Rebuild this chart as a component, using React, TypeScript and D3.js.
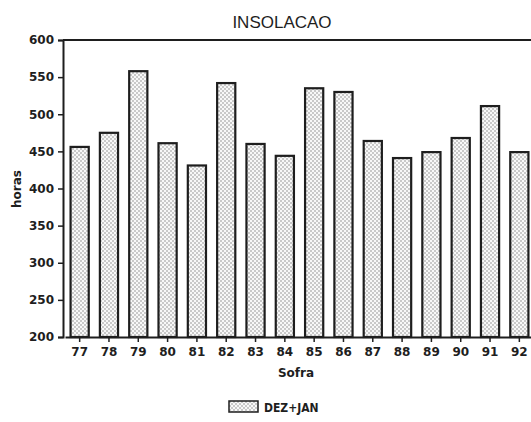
import React, { useEffect, useRef } from "react";
import * as d3 from "d3";

const years = ["77", "78", "79", "80", "81", "82", "83", "84", "85", "86", "87", "88", "89", "90", "91", "92"];
const dezJan = [456, 475, 558, 461, 431, 542, 460, 444, 535, 530, 464, 441, 449, 468, 511, 449];
const yTicks = [200, 250, 300, 350, 400, 450, 500, 550, 600];

function App() {
  const ref = useRef<SVGSVGElement | null>(null);
  const width = 531;
  const height = 422;
  const marginTop = 40;
  const marginLeft = 63;
  const plotBottom = 337;
  const plotRight = 534;

  useEffect(() => {
    const x = d3
      .scaleBand<string>()
      .domain(years)
      .range([marginLeft + 2, plotRight])
      .paddingInner(0.38)
      .paddingOuter(0.19);

    const y = d3.scaleLinear().domain([200, 600]).range([plotBottom, marginTop]);

    const ink = "#1e1e1e";
    const svg = d3.select(ref.current);
    svg.selectAll("*").remove();
    svg.attr("width", width).attr("height", height).attr("viewBox", [0, 0, width, height]);

    // dotted fill like the old printer pattern (staggered dots)
    const pat = svg
      .append("defs")
      .append("pattern")
      .attr("id", "dots")
      .attr("width", 4)
      .attr("height", 4)
      .attr("patternUnits", "userSpaceOnUse");
    pat.append("rect").attr("width", 4).attr("height", 4).attr("fill", "#f8f8f8");
    pat.append("circle").attr("cx", 1).attr("cy", 1).attr("r", 0.7).attr("fill", "#777");
    pat.append("circle").attr("cx", 3).attr("cy", 3).attr("r", 0.7).attr("fill", "#777");

    // title
    svg
      .append("text")
      .attr("x", 282)
      .attr("y", 28)
      .attr("text-anchor", "middle")
      .attr("font-family", "Liberation Sans, Arial, sans-serif")
      .attr("font-size", 17)
      .attr("fill", ink)
      .text("INSOLACAO");

    // bars
    svg
      .append("g")
      .selectAll("rect")
      .data(dezJan)
      .join("rect")
      .attr("x", (_, i) => x(years[i]) as number)
      .attr("y", (d) => y(d))
      .attr("width", x.bandwidth())
      .attr("height", (d) => plotBottom - y(d))
      .attr("fill", "url(#dots)")
      .attr("stroke", ink)
      .attr("stroke-width", 2.2);

    // y axis
    const yAxis = svg
      .append("g")
      .attr("transform", `translate(${marginLeft},0)`)
      .call(d3.axisLeft(y).tickValues(yTicks).tickSize(5).tickPadding(4));
    yAxis.select(".domain").attr("stroke", ink).attr("stroke-width", 2);
    yAxis.selectAll(".tick line").attr("stroke", ink).attr("stroke-width", 1.5);
    yAxis
      .selectAll("text")
      .attr("font-family", "DejaVu Sans, sans-serif")
      .attr("font-weight", "bold")
      .attr("font-size", 12)
      .attr("fill", ink);

    // x axis
    const xAxis = svg
      .append("g")
      .attr("transform", `translate(0,${plotBottom})`)
      .call(d3.axisBottom(x).tickSize(5).tickPadding(5).tickSizeOuter(0));
    xAxis.select(".domain").attr("stroke", ink).attr("stroke-width", 2);
    xAxis.selectAll(".tick line").attr("stroke", ink).attr("stroke-width", 1.5);
    xAxis
      .selectAll("text")
      .attr("font-family", "DejaVu Sans, sans-serif")
      .attr("font-weight", "bold")
      .attr("font-size", 12)
      .attr("fill", ink);

    // top frame line
    svg
      .append("line")
      .attr("x1", marginLeft)
      .attr("x2", width)
      .attr("y1", marginTop)
      .attr("y2", marginTop)
      .attr("stroke", ink)
      .attr("stroke-width", 2);

    // axis titles
    svg
      .append("text")
      .attr("x", 296)
      .attr("y", 377)
      .attr("text-anchor", "middle")
      .attr("font-family", "DejaVu Sans, sans-serif")
      .attr("font-weight", "bold")
      .attr("font-size", 12)
      .attr("fill", ink)
      .text("Sofra");

    svg
      .append("text")
      .attr("transform", "translate(21,189) rotate(-90)")
      .attr("text-anchor", "middle")
      .attr("font-family", "DejaVu Sans, sans-serif")
      .attr("font-weight", "bold")
      .attr("font-size", 12)
      .attr("fill", ink)
      .text("horas");

    // legend
    const legend = svg.append("g").attr("transform", "translate(229,401)");
    legend
      .append("rect")
      .attr("width", 29)
      .attr("height", 11)
      .attr("fill", "url(#dots)")
      .attr("stroke", ink)
      .attr("stroke-width", 1.5);
    legend
      .append("text")
      .attr("x", 35)
      .attr("y", 11)
      .attr("font-family", "DejaVu Sans Condensed, DejaVu Sans, sans-serif")
      .attr("font-weight", "bold")
      .attr("font-size", 12)
      .attr("fill", ink)
      .text("DEZ+JAN");
  }, []);

  return (
    <div style={{ position: "absolute", left: 0, top: 0, background: "#fff" }}>
      <svg ref={ref}></svg>
    </div>
  );
}

export default App;
